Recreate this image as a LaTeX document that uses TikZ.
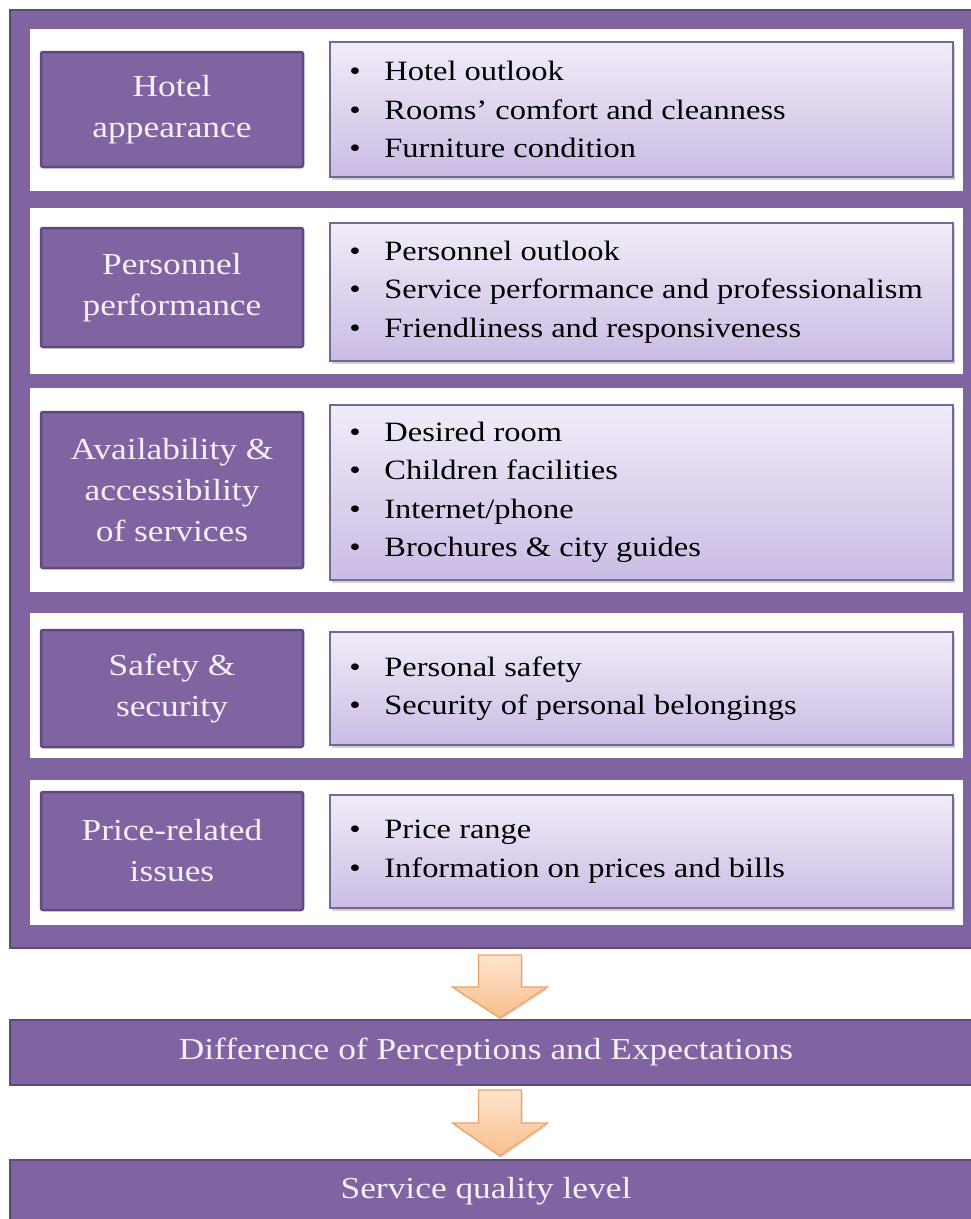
\documentclass[tikz,border=0pt]{standalone}
\usepackage{fontspec}
\setmainfont[FakeStretch=1.16]{Liberation Serif}
\usetikzlibrary{shadows,calc}

\definecolor{plum}{HTML}{8064A2}
\definecolor{plumdark}{HTML}{5E4A7F}
\definecolor{lavtop}{HTML}{F1ECF8}
\definecolor{lavbot}{HTML}{CBBCE4}
\definecolor{lavedge}{HTML}{75679A}
\definecolor{lighttext}{HTML}{F4EFFA}
\definecolor{peachtop}{HTML}{FDE4CE}
\definecolor{peachbot}{HTML}{F9BE8B}
\definecolor{orangeedge}{HTML}{F3A060}

\tikzset{
  frame/.style={draw=plumdark, line width=2.5pt, fill=plum, inner sep=0pt},
  panel/.style={fill=white, inner sep=0pt},
  catbox/.style={draw=plumdark, line width=2.5pt, fill=plum, rounded corners=2pt,
    text=lighttext, font=\fontsize{30.5}{41}\selectfont, align=center, inner sep=0pt},
  listbox/.style={draw=lavedge, line width=1.6pt, top color=lavtop, bottom color=lavbot,
    drop shadow={shadow xshift=1.5pt, shadow yshift=-3pt, opacity=0.35}, inner sep=0pt},
  listtext/.style={anchor=west, align=left, font=\fontsize{28}{38.5}\selectfont,
    inner sep=0pt, text=black},
  bar/.style={draw=plumdark, line width=2.5pt, fill=plum, text=lighttext,
    font=\fontsize{30.5}{41}\selectfont, inner sep=0pt},
  blockarrow/.style={draw=orangeedge, line width=1.2pt, top color=peachtop,
    bottom color=peachbot, line join=miter,
    drop shadow={shadow xshift=1pt, shadow yshift=-2pt, opacity=0.25}}
}

% rectangle node given by its corners: style, name, x1, y1, x2, y2, text
\newcommand\rectnode[7]{%
  \node[#1, minimum width={#5-#3}, minimum height={#6-#4}] (#2)
    at ({(#3+#5)/2},{(#4+#6)/2}) {#7};}
% one bulleted line
\newcommand\bul[1]{\makebox[35pt][l]{\textbullet}#1}

\begin{document}
\begin{tikzpicture}[x=1pt, y=-1pt]
  \useasboundingbox (0,0) rectangle (971,1219);

  % outer frame holding the five dimensions
  \rectnode{frame}{frame}{10}{10}{975}{948}{}

  % white panels
  \rectnode{panel}{p1}{30}{29}{963}{191}{}
  \rectnode{panel}{p2}{30}{208}{963}{374}{}
  \rectnode{panel}{p3}{30}{388}{963}{592}{}
  \rectnode{panel}{p4}{30}{613}{963}{758}{}
  \rectnode{panel}{p5}{30}{780}{963}{925}{}

  % dimension names
  \rectnode{catbox}{c1}{41}{52}{303}{167}{Hotel\\appearance}
  \rectnode{catbox}{c2}{41}{228}{303}{347}{Personnel\\performance}
  \rectnode{catbox}{c3}{41}{412}{303}{568}{Availability \&\\accessibility\\of services}
  \rectnode{catbox}{c4}{41}{630}{303}{747}{Safety \&\\security}
  \rectnode{catbox}{c5}{41}{792}{303}{910}{Price-related\\issues}

  % item lists
  \rectnode{listbox}{r1}{330}{42}{953}{177}{}
  \rectnode{listbox}{r2}{330}{223}{953}{361}{}
  \rectnode{listbox}{r3}{330}{405}{953}{580}{}
  \rectnode{listbox}{r4}{330}{632}{953}{745}{}
  \rectnode{listbox}{r5}{330}{795}{953}{908}{}

  \node[listtext] (t1) at ([xshift=20pt]r1.west)
    {\bul{Hotel outlook}\\\bul{Rooms’ comfort and cleanness}\\\bul{Furniture condition}};
  \node[listtext] (t2) at ([xshift=20pt]r2.west)
    {\bul{Personnel outlook}\\\bul{Service performance and professionalism}\\\bul{Friendliness and responsiveness}};
  \node[listtext] (t3) at ([xshift=20pt]r3.west)
    {\bul{Desired room}\\\bul{Children facilities}\\\bul{Internet/phone}\\\bul{Brochures \& city guides}};
  \node[listtext] (t4) at ([xshift=20pt]r4.west)
    {\bul{Personal safety}\\\bul{Security of personal belongings}};
  \node[listtext] (t5) at ([xshift=20pt]r5.west)
    {\bul{Price range}\\\bul{Information on prices and bills}};

  % outcome bars
  \rectnode{bar}{diff}{10}{1020}{975}{1085}{}
  \rectnode{bar}{sq}{10}{1160}{975}{1230}{}
  \node[text=lighttext, font=\fontsize{30.5}{41}\selectfont] (difft) at (486,1052)
    {Difference of Perceptions and Expectations};
  \node[text=lighttext, font=\fontsize{30.5}{41}\selectfont] (sqt) at (486,1191)
    {Service quality level};

  % block arrows between frame and bars
  \coordinate (a1) at (500,955);
  \coordinate (tip1) at (500,1018);
  \coordinate (a2) at (500,1090);
  \coordinate (tip2) at (500,1156);
  \path[blockarrow]
    ($(a1)+(-21.5,0)$) -- ($(a1)+(21.5,0)$) -- ($(a1)+(21.5,32)$) -- ($(a1)+(47.5,32)$)
    -- (tip1) -- ($(a1)+(-47.5,32)$) -- ($(a1)+(-21.5,32)$) -- cycle;
  \path[blockarrow]
    ($(a2)+(-21.5,0)$) -- ($(a2)+(21.5,0)$) -- ($(a2)+(21.5,33)$) -- ($(a2)+(47.5,33)$)
    -- (tip2) -- ($(a2)+(-47.5,33)$) -- ($(a2)+(-21.5,33)$) -- cycle;
\end{tikzpicture}
\end{document}
